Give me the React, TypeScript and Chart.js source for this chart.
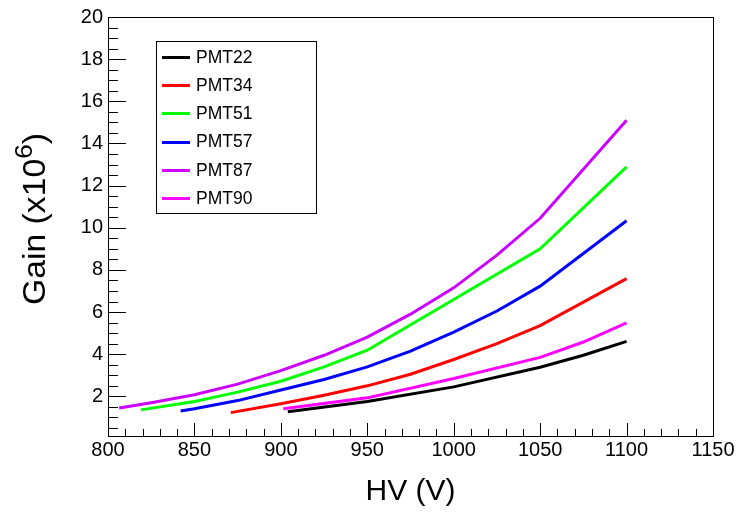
import React, { useEffect, useRef } from "react";
import { Chart, registerables } from "chart.js";

Chart.register(...registerables);

const seriesNames = ["PMT22", "PMT34", "PMT51", "PMT57", "PMT87", "PMT90"];
const seriesColors = ["#000000", "#ff0000", "#00ff00", "#0000ff", "#cc00ff", "#ff00ff"];

const hvPMT22 = [904, 950, 1000, 1050, 1075, 1100];
const gainPMT22 = [1.27, 1.76, 2.45, 3.38, 3.95, 4.61];

const hvPMT34 = [871, 900, 925, 950, 975, 1000, 1025, 1050, 1100];
const gainPMT34 = [1.23, 1.65, 2.05, 2.5, 3.05, 3.75, 4.5, 5.36, 7.59];

const hvPMT51 = [819, 850, 875, 900, 925, 950, 1000, 1050, 1100];
const gainPMT51 = [1.36, 1.76, 2.2, 2.72, 3.4, 4.19, 6.6, 9.0, 12.89];

const hvPMT57 = [842, 850, 875, 900, 925, 950, 975, 1000, 1025, 1050, 1100];
const gainPMT57 = [1.31, 1.41, 1.8, 2.3, 2.8, 3.4, 4.15, 5.05, 6.05, 7.23, 10.33];

const hvPMT87 = [806.5, 825, 850, 875, 900, 925, 950, 975, 1000, 1025, 1050, 1100];
const gainPMT87 = [1.45, 1.7, 2.08, 2.58, 3.22, 3.95, 4.81, 5.9, 7.15, 8.7, 10.45, 15.1];

const hvPMT90 = [901.4, 950, 1000, 1050, 1075, 1100];
const gainPMT90 = [1.41, 1.93, 2.85, 3.85, 4.58, 5.49];

const hvList = [hvPMT22, hvPMT34, hvPMT51, hvPMT57, hvPMT87, hvPMT90];
const gainList = [gainPMT22, gainPMT34, gainPMT51, gainPMT57, gainPMT87, gainPMT90];

const xTickValues = [800, 850, 900, 950, 1000, 1050, 1100, 1150];
const yTickValues = [2, 4, 6, 8, 10, 12, 14, 16, 18, 20];

const xTitle = "HV (V)";
const yTitleMain = "Gain (x10";
const yTitleSup = "6";
const yTitleEnd = ")";

const FONT = '"Liberation Sans", Arial, Helvetica, sans-serif';

const decorPlugin = {
  id: "rootDecor",
  afterDraw(chart: any) {
    const { ctx, chartArea: a, scales } = chart;
    const xs = scales.x;
    const ys = scales.y;
    ctx.save();
    ctx.strokeStyle = "#000";
    ctx.lineWidth = 1;
    ctx.strokeRect(a.left + 0.5, a.top + 0.5, a.right - a.left, a.bottom - a.top);
    ctx.beginPath();
    for (let v = 800; v <= 1150 + 1e-6; v += 10) {
      const px = Math.round(xs.getPixelForValue(v)) + 0.5;
      const major = Math.abs(v % 50) < 1e-6;
      const len = major ? 13 : 7;
      ctx.moveTo(px, a.bottom);
      ctx.lineTo(px, a.bottom - len);
    }
    for (let v = 0.5; v <= 20 + 1e-6; v += 0.5) {
      const py = Math.round(ys.getPixelForValue(v)) + 0.5;
      const major = Math.abs(v % 2) < 1e-6;
      const len = major ? 18 : 10;
      ctx.moveTo(a.left, py);
      ctx.lineTo(a.left + len, py);
    }
    ctx.stroke();

    const lx = 156, ly = 41, lw = 160, lh = 172;
    ctx.fillStyle = "#fff";
    ctx.fillRect(lx, ly, lw, lh);
    ctx.strokeRect(lx + 0.5, ly + 0.5, lw, lh);
    ctx.font = `17.5px ${FONT}`;
    ctx.textBaseline = "middle";
    ctx.textAlign = "left";
    chart.data.datasets.forEach((ds: any, i: number) => {
      const ry = 57 + i * 28.2;
      ctx.strokeStyle = ds.borderColor;
      ctx.lineWidth = 3;
      ctx.beginPath();
      ctx.moveTo(162, Math.round(ry) + 0.5);
      ctx.lineTo(190, Math.round(ry) + 0.5);
      ctx.stroke();
      ctx.fillStyle = "#000";
      ctx.fillText(ds.label, 196, ry + 1);
    });

    ctx.fillStyle = "#000";
    ctx.font = `30px ${FONT}`;
    ctx.textAlign = "center";
    ctx.textBaseline = "alphabetic";
    ctx.fillText(xTitle, (a.left + a.right) / 2, 500);

    ctx.save();
    ctx.translate(45, 219);
    ctx.rotate(-Math.PI / 2);
    const mainFont = `31px ${FONT}`;
    const supFont = `24px ${FONT}`;
    ctx.font = mainFont;
    const w1 = ctx.measureText(yTitleMain).width;
    const w3 = ctx.measureText(yTitleEnd).width;
    ctx.font = supFont;
    const w2 = ctx.measureText(yTitleSup).width;
    const total = w1 + w2 + w3;
    const sx = 172 / total;
    ctx.scale(sx, 1);
    ctx.textAlign = "left";
    let x0 = -total / 2;
    ctx.font = mainFont;
    ctx.fillText(yTitleMain, x0, 0);
    x0 += w1;
    ctx.font = supFont;
    ctx.fillText(yTitleSup, x0, -13);
    x0 += w2;
    ctx.font = mainFont;
    ctx.fillText(yTitleEnd, x0, 0);
    ctx.restore();

    ctx.restore();
  },
};

export default function App() {
  const ref = useRef<HTMLCanvasElement>(null);
  useEffect(() => {
    document.body.style.margin = "0";
    const canvas = ref.current!;
    const datasets = seriesNames.map((name, i) => ({
      label: name,
      data: hvList[i].map((hv, j) => ({ x: hv, y: gainList[i][j] })),
      borderColor: seriesColors[i],
      backgroundColor: seriesColors[i],
      borderWidth: 3,
      showLine: true,
      pointRadius: 0,
      tension: 0,
      fill: false,
    }));
    const chart = new Chart(canvas, {
      type: "scatter",
      data: { datasets },
      options: {
        responsive: false,
        animation: false,
        devicePixelRatio: 1,
        layout: { padding: { left: 0, top: 13, right: 26, bottom: 0 } },
        plugins: { legend: { display: false }, tooltip: { enabled: false } },
        scales: {
          x: {
            type: "linear",
            min: 800,
            max: 1150,
            grid: { display: false, drawTicks: false },
            border: { display: false },
            afterBuildTicks: (s: any) => {
              s.ticks = xTickValues.map((v) => ({ value: v }));
            },
            afterFit: (s: any) => {
              s.height = 78;
            },
            ticks: {
              color: "#000",
              font: { family: FONT, size: 20 },
              padding: 2,
              maxRotation: 0,
              autoSkip: false,
              callback: (v: any) => String(v),
            },
          },
          y: {
            type: "linear",
            min: 0.12,
            max: 20,
            grid: { display: false, drawTicks: false },
            border: { display: false },
            afterBuildTicks: (s: any) => {
              s.ticks = yTickValues.map((v) => ({ value: v }));
            },
            afterFit: (s: any) => {
              s.width = 108;
            },
            ticks: {
              color: "#000",
              font: { family: FONT, size: 20 },
              padding: 5,
              autoSkip: false,
              callback: (v: any) => String(v),
            },
          },
        },
      },
      plugins: [decorPlugin],
    } as any);
    return () => chart.destroy();
  }, []);
  return <canvas ref={ref} width={739} height={514} style={{ display: "block" }} />;
}
